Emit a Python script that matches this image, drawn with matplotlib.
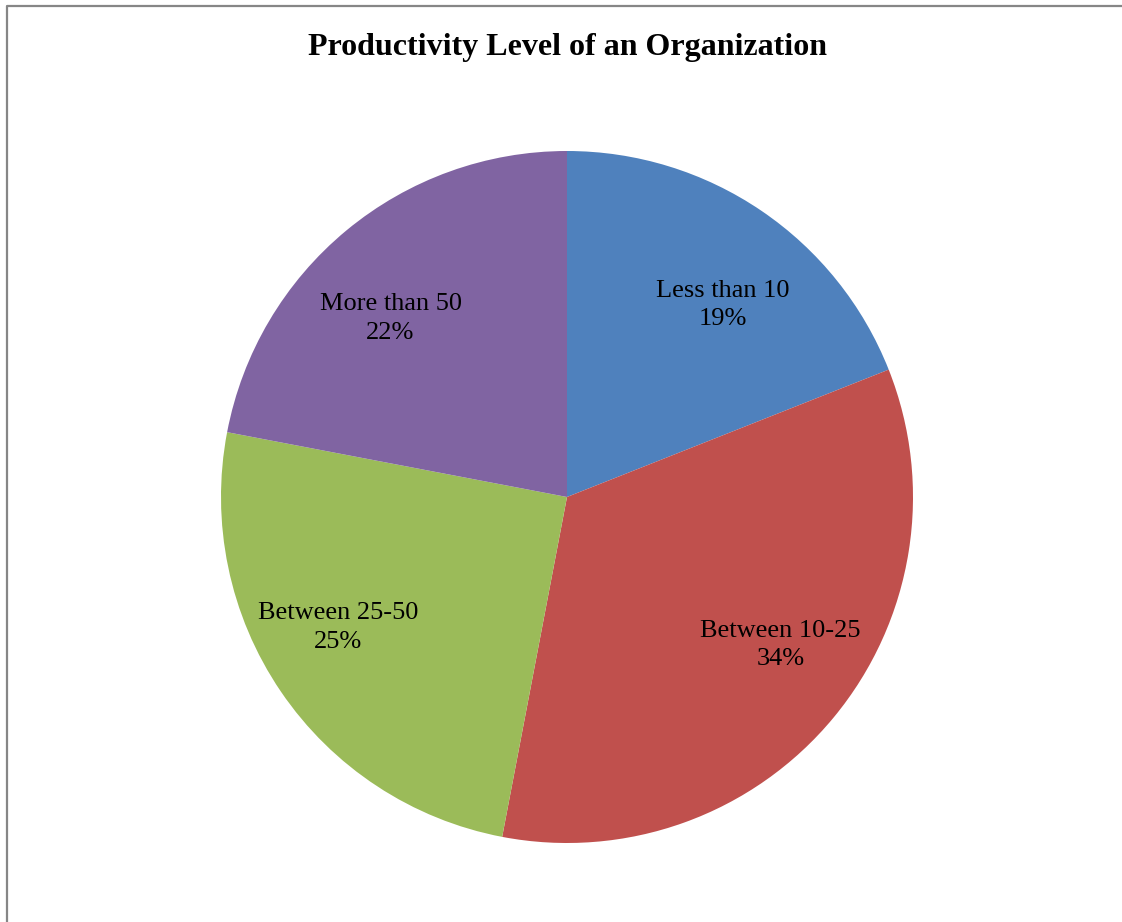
import numpy as np
import matplotlib
matplotlib.use("Agg")
import matplotlib.pyplot as plt
from matplotlib.lines import Line2D

title = "Productivity Level of an Organization"
categories = ["Less than 10", "Between 10-25", "Between 25-50", "More than 50"]
values = [19, 34, 25, 22]
colors = ["#4F81BD", "#C0504D", "#9BBB59", "#8064A2"]

W, H = 1122, 922
fig = plt.figure(figsize=(W / 100, H / 100), dpi=100)
plt.rcParams['font.family'] = ['Liberation Serif', 'DejaVu Serif']

cx, cy, r = 567, 497, 346
ax = fig.add_axes([(cx - r) / W, (H - cy - r) / H, 2 * r / W, 2 * r / H])
wedges, _ = ax.pie(values, colors=colors, startangle=90, counterclock=False,
                   radius=1.0, wedgeprops=dict(linewidth=0))
ax.set_xlim(-1, 1)
ax.set_ylim(-1, 1)
ax.set_aspect('equal')
ax.axis('off')

total = sum(values)
for w, cat, v in zip(wedges, categories, values):
    ang = np.deg2rad((w.theta1 + w.theta2) / 2)
    x, y = 0.80 * np.cos(ang), 0.67 * np.sin(ang)
    ax.text(x, y, f"{cat}\n{round(100 * v / total)}%", ha='center', va='center',
            fontsize=19, linespacing=1.38, color='black')

fig.text(cx / W, 1 - 48 / H, title, ha='center', va='center',
         fontsize=23, fontweight='bold')

frame = Line2D([6.5 / W, 6.5 / W, 1.0], [0, 1 - 6.5 / H, 1 - 6.5 / H],
               transform=fig.transFigure, color='#868686', linewidth=1.6)
fig.add_artist(frame)

fig.savefig("out.png", dpi=100)
